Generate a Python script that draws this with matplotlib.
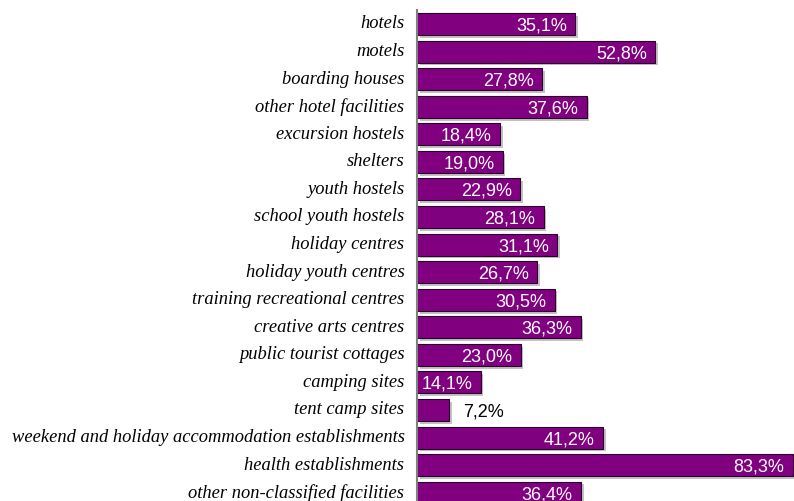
import numpy as np
import matplotlib.pyplot as plt
import matplotlib.patheffects as pe

categories = ['hotels', 'motels', 'boarding houses', 'other hotel facilities',
              'excursion hostels', 'shelters', 'youth hostels', 'school youth hostels',
              'holiday centres', 'holiday youth centres', 'training recreational centres',
              'creative arts centres', 'public tourist cottages', 'camping sites',
              'tent camp sites', 'weekend and holiday accommodation establishments',
              'health establishments', 'other non-classified facilities']
values = [35.1, 52.8, 27.8, 37.6, 18.4, 19.0, 22.9, 28.1, 31.1, 26.7, 30.5,
          36.3, 23.0, 14.1, 7.2, 41.2, 83.3, 36.4]

W, H = 794, 501
fig = plt.figure(figsize=(W / 100, H / 100), dpi=100)
# axes runs a bit past the bottom edge, the last bar is cut off in the original
ax = fig.add_axes([417 / W, (H - 506.5) / H, (W - 417) / W, 496.3 / H])

y = np.arange(len(categories))
bars = ax.barh(y, values, height=0.8, color='#800080', edgecolor='#2a002a',
               linewidth=0.8)
for b in bars:
    b.set_path_effects([pe.SimplePatchShadow(offset=(2, -2), shadow_rgbFace='#aaaaaa',
                                             alpha=0.7), pe.Normal()])

ax.set_xlim(0, 83.6)
ax.set_ylim(len(categories) - 0.5, -0.5)
ax.set_yticks(y)
ax.set_yticklabels(categories, family='Liberation Serif', style='italic',
                   fontsize=13.3, va='center')
ax.tick_params(axis='y', length=0, pad=9)
ax.set_xticks([])

for s in ['top', 'right', 'bottom']:
    ax.spines[s].set_visible(False)
ax.spines['left'].set_color('#808080')
ax.spines['left'].set_linewidth(1.5)

for yi, v in zip(y, values):
    txt = f'{v:.1f}%'.replace('.', ',')
    if v < 10:
        ax.annotate(txt, (v, yi), xytext=(10, 0), textcoords='offset points',
                    ha='left', va='center_baseline', color='black', fontsize=13,
                    family='Liberation Sans')
    else:
        ax.annotate(txt, (v, yi), xytext=(-6, 0), textcoords='offset points',
                    ha='right', va='center_baseline', color='white', fontsize=13,
                    family='Liberation Sans')

fig.savefig('out.png', dpi=100)
